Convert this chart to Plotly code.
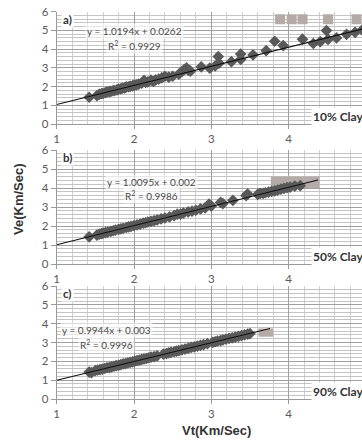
import plotly.graph_objects as go

# ---------------- data ----------------
panel_labels = ["a)", "b)", "c)"]
clay_labels = ["10% Clay", "50% Clay", "90% Clay"]

vt_a = [1.42, 1.52, 1.55, 1.58, 1.60, 1.63, 1.65, 1.68, 1.70, 1.73, 1.75, 1.78, 1.80, 1.83,
        1.85, 1.88, 1.90, 1.93, 1.95, 1.98, 2.00, 2.03, 2.06, 2.10, 2.13, 2.15, 2.18, 2.22,
        2.25, 2.28, 2.32, 2.36, 2.40, 2.45, 2.50, 2.58, 2.62, 2.65, 2.68, 2.70, 2.73, 2.87,
        2.98, 3.05, 3.09, 3.10, 3.26, 3.38, 3.38, 3.54, 3.71, 3.82, 3.93, 4.18, 4.32, 4.41,
        4.49, 4.51, 4.62, 4.75, 4.86, 4.95]
ve_a = [1.43, 1.52, 1.58, 1.62, 1.63, 1.68, 1.70, 1.73, 1.74, 1.78, 1.79, 1.82, 1.86, 1.88,
        1.92, 1.93, 1.98, 1.99, 2.01, 2.04, 2.06, 2.09, 2.13, 2.18, 2.33, 2.22, 2.25, 2.34,
        2.27, 2.36, 2.40, 2.46, 2.55, 2.50, 2.55, 2.66, 2.80, 2.90, 3.00, 2.88, 2.82, 3.05,
        2.98, 3.10, 3.60, 3.25, 3.33, 3.74, 3.45, 3.69, 3.92, 4.42, 4.19, 4.53, 4.30, 4.40,
        4.99, 4.52, 4.60, 4.79, 4.90, 5.02]

vt_b = [1.42, 1.52, 1.55, 1.58, 1.60, 1.63, 1.66, 1.70, 1.73, 1.76, 1.80, 1.83, 1.86, 1.90,
        1.93, 1.96, 2.00, 2.04, 2.08, 2.12, 2.15, 2.18, 2.22, 2.26, 2.30, 2.35, 2.40, 2.46,
        2.52, 2.56, 2.60, 2.64, 2.70, 2.75, 2.80, 2.86, 2.92, 2.97, 3.00, 3.12, 3.15, 3.28,
        3.45, 3.47, 3.60, 3.63, 3.67, 3.70, 3.74, 3.78, 3.82, 3.86, 3.90, 3.94, 3.98, 4.02,
        4.08, 4.15]
ve_b = [1.43, 1.52, 1.57, 1.60, 1.62, 1.65, 1.68, 1.72, 1.75, 1.78, 1.82, 1.85, 1.88, 1.92,
        1.95, 1.98, 2.02, 2.06, 2.10, 2.15, 2.17, 2.21, 2.24, 2.28, 2.32, 2.37, 2.42, 2.48,
        2.55, 2.62, 2.63, 2.68, 2.74, 2.78, 2.83, 2.90, 2.95, 3.15, 3.05, 3.24, 3.18, 3.35,
        3.60, 3.68, 3.66, 3.72, 3.72, 3.75, 3.78, 3.82, 3.85, 3.89, 3.94, 3.98, 4.02, 4.05,
        4.10, 4.12]

vt_c = [1.42, 1.45, 1.50, 1.53, 1.56, 1.59, 1.62, 1.65, 1.68, 1.71, 1.74, 1.77, 1.80, 1.83,
        1.86, 1.89, 1.92, 1.95, 1.98, 2.01, 2.04, 2.07, 2.10, 2.13, 2.16, 2.19, 2.22, 2.26,
        2.30, 2.38, 2.42, 2.45, 2.48, 2.52, 2.55, 2.58, 2.62, 2.66, 2.70, 2.74, 2.78, 2.82,
        2.86, 2.90, 2.95, 3.02, 3.05, 3.08, 3.12, 3.15, 3.19, 3.23, 3.27, 3.31, 3.35, 3.39,
        3.43, 3.47, 3.50]
ve_c = [1.43, 1.40, 1.51, 1.54, 1.56, 1.59, 1.62, 1.66, 1.67, 1.71, 1.74, 1.77, 1.79, 1.83,
        1.86, 1.88, 1.92, 1.95, 1.97, 2.01, 2.04, 2.06, 2.10, 2.13, 2.15, 2.19, 2.22, 2.25,
        2.29, 2.38, 2.41, 2.45, 2.48, 2.51, 2.54, 2.57, 2.61, 2.65, 2.69, 2.74, 2.77, 2.81,
        2.85, 2.89, 2.94, 3.01, 3.04, 3.07, 3.10, 3.14, 3.18, 3.22, 3.25, 3.29, 3.33, 3.37,
        3.41, 3.45, 3.47]

# trendline coefficients (slope, intercept, R^2) and extent
slopes = [1.0194, 1.0095, 0.9944]
intercepts = [0.0262, 0.002, 0.003]
r2_values = ["0.9929", "0.9986", "0.9996"]
eq_texts = ["y = 1.0194x + 0.0262", "y = 1.0095x + 0.002", "y = 0.9944x + 0.003"]
trend_start = [1.0, 1.0, 1.0]
trend_end = [4.95, 4.38, 3.76]

# grey legend remnants
squares_a_x = [3.89, 4.04, 4.18, 4.51, 4.88]
squares_a_y = [5.6, 5.6, 5.6, 5.6, 5.6]
rect_b = [3.77, 4.40, 4.0, 4.6]   # x0, x1, y0, y1
rect_c = [3.61, 3.80, 3.31, 3.75]

x_ticks = [1, 2, 3, 4, 5]
y_ticks = [0, 1, 2, 3, 4, 5, 6]

# ---------------- figure ----------------
W, H = 362, 440
left_px = 56.7
x_range = [1, 1 + (W - left_px) / 77.3]
y_domains_px = [(11.7, 124), (150, 264), (286, 399)]

fig = go.Figure()
data = [(vt_a, ve_a), (vt_b, ve_b), (vt_c, ve_c)]
diamond_col = "#595959"
grey_col = "#b4aba8"

for i, (xs, ys) in enumerate(data):
    xa = "x" if i == 0 else f"x{i+1}"
    ya = "y" if i == 0 else f"y{i+1}"
    fig.add_trace(go.Scatter(x=xs, y=ys, mode="markers", xaxis=xa, yaxis=ya,
                             marker=dict(symbol="diamond", size=9, color=diamond_col),
                             showlegend=False, cliponaxis=True))
    tx = [trend_start[i], trend_end[i]]
    ty = [slopes[i] * v + intercepts[i] for v in tx]
    fig.add_trace(go.Scatter(x=tx, y=ty, mode="lines", xaxis=xa, yaxis=ya,
                             line=dict(color="#111111", width=1.1), showlegend=False))

fig.add_trace(go.Scatter(x=squares_a_x, y=squares_a_y, mode="markers", xaxis="x", yaxis="y",
                         marker=dict(symbol="square", size=10, color=grey_col),
                         showlegend=False))

for k, r in zip([2, 3], [rect_b, rect_c]):
    fig.add_shape(type="rect", xref=f"x{k}", yref=f"y{k}", x0=r[0], x1=r[1], y0=r[2], y1=r[3],
                  fillcolor=grey_col, line=dict(width=0), layer="between")

tick_font = dict(family="Lato, Liberation Sans, sans-serif", size=11.5, color="#5a5a5a")
layout = dict(width=W, height=H, margin=dict(l=0, r=0, t=0, b=0),
              paper_bgcolor="white", plot_bgcolor="white", showlegend=False)

for i in range(3):
    top, bot = y_domains_px[i]
    xk = "xaxis" if i == 0 else f"xaxis{i+1}"
    yk = "yaxis" if i == 0 else f"yaxis{i+1}"
    anchor_y = "y" if i == 0 else f"y{i+1}"
    anchor_x = "x" if i == 0 else f"x{i+1}"
    layout[xk] = dict(domain=[left_px / W, 1], range=x_range, anchor=anchor_y,
                      tickvals=x_ticks, showgrid=True, gridcolor="#a0a0a0", gridwidth=1,
                      minor=dict(dtick=0.2, tick0=1, showgrid=True, gridcolor="#cfcfcf", gridwidth=1),
                      zeroline=False, showline=True, linecolor="#9a9a9a", linewidth=1,
                      ticks="outside", ticklen=4, tickcolor="#9a9a9a",
                      tickfont=tick_font, automargin=False)
    layout[yk] = dict(domain=[1 - bot / H, 1 - top / H], range=[0, 6], anchor=anchor_x,
                      tickvals=y_ticks, showgrid=True, gridcolor="#a0a0a0", gridwidth=1,
                      minor=dict(dtick=0.2, tick0=0, showgrid=True, gridcolor="#c4c4c4", gridwidth=1),
                      zeroline=False, showline=True, linecolor="#9a9a9a", linewidth=1,
                      ticks="outside", ticklen=5, tickcolor="#9a9a9a",
                      tickfont=tick_font, automargin=False)

fig.update_layout(**layout)

# annotations
eq_pos = [(2.01, 4.97, 4.22), (2.23, 4.33, 3.63), (1.65, 3.66, 2.87)]
eq_font = dict(family="Lato, Liberation Sans, sans-serif", size=10, color="#4a4a4a")
for i in range(3):
    xr = "x" if i == 0 else f"x{i+1}"
    yr = "y" if i == 0 else f"y{i+1}"
    fig.add_annotation(x=1.06, y=5.6, xref=xr, yref=yr, text=f"<b>{panel_labels[i]}</b>",
                       showarrow=False, xanchor="left", yanchor="middle", bgcolor="white",
                       font=dict(family="Lato, Liberation Sans, sans-serif", size=11.5, color="#333333"))
    ex, ey1, ey2 = eq_pos[i]
    fig.add_annotation(x=ex, y=ey1, xref=xr, yref=yr, text=eq_texts[i], showarrow=False,
                       xanchor="center", yanchor="middle", font=eq_font,
                       bgcolor="rgba(255,255,255,0.6)")
    fig.add_annotation(x=ex, y=ey2, xref=xr, yref=yr, text=f"R<sup>2</sup> = {r2_values[i]}",
                       showarrow=False, xanchor="center", yanchor="middle", font=eq_font,
                       bgcolor="rgba(255,255,255,0.6)")
    fig.add_annotation(x=4.29, y=0.39, xref=xr, yref=yr, text=f"<b>{clay_labels[i]}</b>",
                       showarrow=False, xanchor="left", yanchor="middle", bgcolor="white",
                       font=dict(family="Lato, Liberation Sans, sans-serif", size=12, color="#333333"))

fig.add_annotation(x=216 / W, y=1 - 430 / H, xref="paper", yref="paper",
                   text="<b>Vt(Km/Sec)</b>", showarrow=False, xanchor="center", yanchor="middle",
                   font=dict(family="Liberation Sans, Arial, sans-serif", size=13, color="#333333"))
fig.add_annotation(x=18 / W, y=1 - 199 / H, xref="paper", yref="paper",
                   text="<b>Ve(Km/Sec)</b>", showarrow=False, textangle=-90,
                   xanchor="center", yanchor="middle",
                   font=dict(family="Liberation Sans, Arial, sans-serif", size=13, color="#333333"))

fig.write_html("out.html", config={"displayModeBar": False},
               post_script="document.body.style.margin='0';document.body.style.overflow='hidden';")
